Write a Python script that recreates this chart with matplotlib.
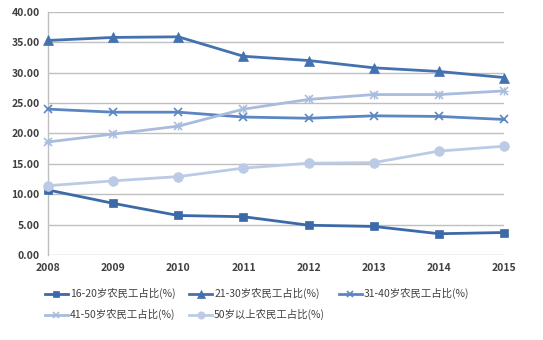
import matplotlib
matplotlib.use("Agg")
import matplotlib.pyplot as plt

plt.rcParams['font.family'] = ['Noto Sans CJK SC', 'DejaVu Sans']

years = [2008, 2009, 2010, 2011, 2012, 2013, 2014, 2015]
s1620 = [10.7, 8.5, 6.5, 6.3, 4.9, 4.7, 3.5, 3.7]
s2130 = [35.3, 35.8, 35.9, 32.7, 32.0, 30.8, 30.2, 29.2]
s3140 = [24.0, 23.5, 23.5, 22.7, 22.5, 22.9, 22.8, 22.3]
s4150 = [18.6, 19.9, 21.2, 24.0, 25.6, 26.4, 26.4, 27.0]
s50p = [11.4, 12.2, 12.9, 14.3, 15.1, 15.2, 17.1, 17.9]
labels = ['16-20岁农民工占比(%)', '21-30岁农民工占比(%)', '31-40岁农民工占比(%)',
          '41-50岁农民工占比(%)', '50岁以上农民工占比(%)']
yticks = [0, 5, 10, 15, 20, 25, 30, 35, 40]

fig = plt.figure(figsize=(5.43, 3.40), dpi=100)
ax = fig.add_axes([0.0884, 0.25, 0.84, 0.715])

styles = [
    (s1620, '#3C6AA8', 's', 6),
    (s2130, '#4472B0', '^', 7),
    (s3140, '#5B86C2', 'x', 6),
    (s4150, '#A9BCDD', 'x', 6),
    (s50p, '#BCCBE5', 'o', 7),
]
handles = []
for (vals, c, m, ms), lab in zip(styles, labels):
    h, = ax.plot(years, vals, color=c, marker=m, markersize=ms, linewidth=2,
                 markeredgewidth=1.2 if m == 'x' else 0.5, label=lab, clip_on=False, zorder=3)
    handles.append(h)
ax.plot(years, s4150, color='#A9BCDD', marker='+', markersize=6, linestyle='none',
        markeredgewidth=1.0, clip_on=False, zorder=3)

ax.set_xlim(2008, 2015)
ax.set_ylim(0, 40)
ax.set_yticks(yticks)
ax.set_yticklabels([f'{v:.2f}' for v in yticks])
ax.set_xticks(years)
ax.grid(axis='y', color='#BFBFBF', linewidth=1)
ax.set_axisbelow(True)
for sp in ['top', 'right', 'bottom']:
    ax.spines[sp].set_visible(False)
ax.spines['left'].set_color('#BFBFBF')
ax.spines['left'].set_linewidth(1)
ax.tick_params(axis='both', length=0, labelsize=7.5, colors='#404040', pad=6)
for t in ax.get_xticklabels() + ax.get_yticklabels():
    t.set_fontweight('bold')

order = [0, 3, 1, 4, 2]
leg = fig.legend([handles[i] for i in order], [labels[i] for i in order],
                 loc='upper left', bbox_to_anchor=(0.075, 0.165), ncol=3, frameon=False,
                 fontsize=7.5, handlelength=2.2, columnspacing=1.3, handletextpad=0.2,
                 labelspacing=0.95, borderaxespad=0, markerscale=0.75)
for t in leg.get_texts():
    t.set_color('#404040')

fig.savefig('out.png', dpi=100)
